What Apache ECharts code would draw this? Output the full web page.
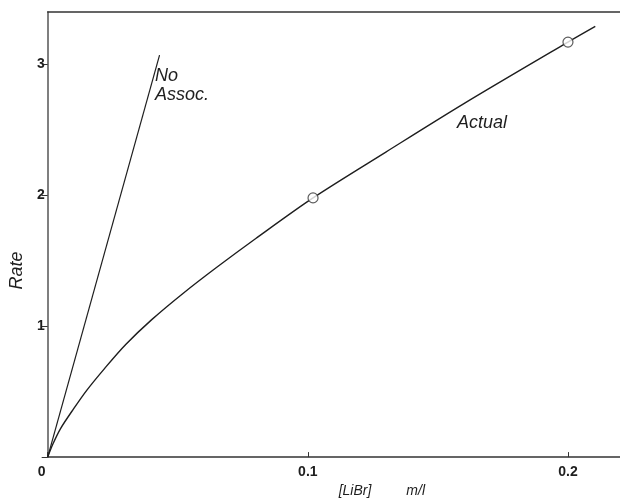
<!DOCTYPE html>
<html>
<head>
<meta charset="utf-8">
<script src="https://cdn.jsdelivr.net/npm/echarts@6/dist/echarts.min.js"></script>
<style>
  html, body { margin: 0; padding: 0; background: #fff; }
  #chart { width: 620px; height: 503px; }
</style>
</head>
<body>
<div id="chart"></div>
<script>
  // values
  var actualX = [0, 0.002, 0.005, 0.01, 0.015, 0.022, 0.03, 0.04, 0.052, 0.065, 0.08, 0.102, 0.13, 0.16, 0.2, 0.2105];
  var actualY = [0, 0.10, 0.22, 0.37, 0.51, 0.68, 0.86, 1.05, 1.25, 1.45, 1.67, 1.98, 2.33, 2.70, 3.17, 3.29];
  var measuredX = [0.102, 0.2];
  var measuredY = [1.98, 3.17];
  var noAssocX = [0, 0.043];
  var noAssocY = [0, 3.07];

  function pairs(xs, ys) {
    return xs.map(function (x, i) { return [x, ys[i]]; });
  }

  var ink = '#1e1e1e';
  var font = 'Liberation Sans, Arial, sans-serif';

  var myChart = echarts.init(document.getElementById('chart'));
  var option = {
    backgroundColor: '#fff',
    animation: false,
    grid: { left: 39, right: -8, top: 12, bottom: 32 },
    xAxis: [{
      type: 'value',
      min: 0,
      max: 0.22,
      interval: 0.1,
      name: '[LiBr]         m/l',
      nameLocation: 'middle',
      nameGap: 22,
      nameTextStyle: { fontFamily: font, fontStyle: 'italic', fontSize: 14, color: ink, padding: [0, 0, 0, 96] },
      axisLine: { lineStyle: { color: '#333', width: 1.5 } },
      axisTick: { inside: true, length: 5, lineStyle: { color: '#333' } },
      axisLabel: {
        showMaxLabel: false,
        margin: 8,
        fontFamily: font, fontSize: 14, fontWeight: 'bold', color: ink,
        formatter: function (v) { return v === 0 ? '{z|0}' : v.toFixed(1); },
        rich: { z: { fontFamily: font, fontSize: 14, fontWeight: 'bold', color: ink, padding: [0, 12, 0, 0] } }
      },
      splitLine: { show: false }
    }, {
      type: 'value',
      position: 'top',
      min: 0,
      max: 0.22,
      axisLine: { show: true, onZero: false, lineStyle: { color: '#333', width: 1.5 } },
      axisTick: { show: false },
      axisLabel: { show: false },
      splitLine: { show: false }
    }],
    yAxis: {
      type: 'value',
      min: 0,
      max: 3.4,
      interval: 1,
      name: 'Rate',
      nameLocation: 'middle',
      nameRotate: 90,
      nameGap: 14,
      nameTextStyle: { fontFamily: font, fontStyle: 'italic', fontSize: 18, color: ink, padding: [0, 72, 0, 0] },
      axisLine: { show: true, lineStyle: { color: '#555', width: 1.5 } },
      axisTick: { length: 6, lineStyle: { color: '#333' } },
      axisLabel: {
        showMaxLabel: false,
        margin: 3,
        fontFamily: font, fontSize: 14, fontWeight: 'bold', color: ink,
        formatter: function (v) { return v === 0 ? '' : String(v); }
      },
      splitLine: { show: false }
    },
    graphic: [
      { type: 'text', left: 155, top: 66, style: { text: 'No\nAssoc.', fontFamily: font, fontStyle: 'italic', fontSize: 18, lineHeight: 19, fill: ink } },
      { type: 'text', left: 457, top: 114, style: { text: 'Actual', fontFamily: font, fontStyle: 'italic', fontSize: 18, fill: ink } }
    ],
    series: [
      {
        name: 'No Assoc.',
        type: 'line',
        data: pairs(noAssocX, noAssocY),
        showSymbol: false,
        lineStyle: { color: ink, width: 1.2 }
      },
      {
        name: 'Actual',
        type: 'line',
        data: pairs(actualX, actualY),
        smooth: 0.3,
        showSymbol: false,
        lineStyle: { color: ink, width: 1.4 }
      },
      {
        name: 'Measured',
        type: 'scatter',
        data: pairs(measuredX, measuredY),
        symbol: 'circle',
        symbolSize: 10,
        itemStyle: { color: '#fff', borderColor: '#333', borderWidth: 1.2 },
        z: 5
      }
    ]
  };
  myChart.setOption(option);
</script>
</body>
</html>
